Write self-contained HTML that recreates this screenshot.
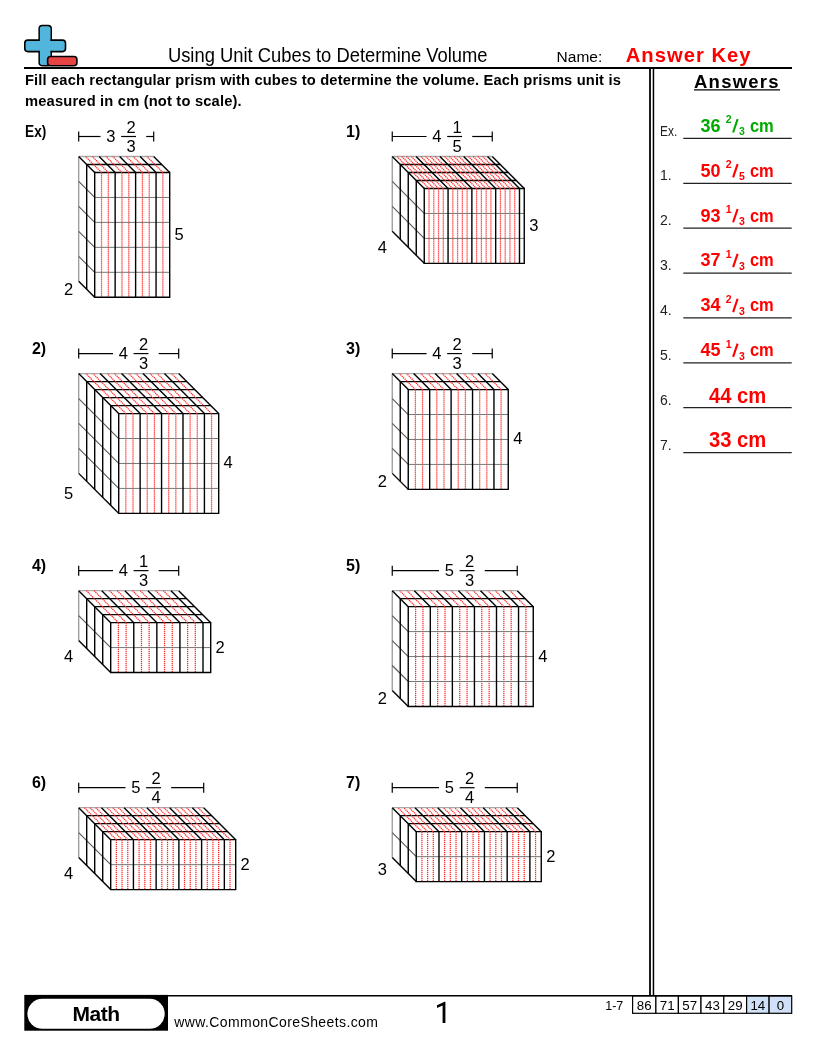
<!DOCTYPE html>
<html><head><meta charset="utf-8"><style>
html,body{margin:0;padding:0;background:#fff;}
body{width:816px;height:1056px;position:relative;overflow:hidden;font-family:"Liberation Sans",sans-serif;}
svg{position:absolute;left:0;top:0;will-change:transform;}
text{font-family:"Liberation Sans",sans-serif;-webkit-font-smoothing:antialiased;}
.dl{font-size:16.5px;fill:#000;}
.pl{font-size:16px;font-weight:bold;fill:#000;}
.al{font-size:14px;fill:#222;}
.am{font-size:18px;font-weight:bold;}
.as{font-size:10.5px;font-weight:bold;}
.asl{font-size:15px;font-weight:bold;}
.aw{font-size:21.5px;font-weight:bold;}
</style></head><body>
<svg width="816" height="1056" viewBox="0 0 816 1056">
<!-- logo -->
<rect x="39.2" y="25.6" width="12" height="40" rx="3" fill="#52b6dc" stroke="#000" stroke-width="1.6"/>
<rect x="24.8" y="40.1" width="40.7" height="11.5" rx="3" fill="#52b6dc" stroke="#000" stroke-width="1.6"/>
<rect x="39.9" y="26.4" width="10.4" height="38.4" rx="2.2" fill="#52b6dc"/>
<rect x="47.6" y="56.5" width="29.3" height="9.2" rx="3" fill="#e84343" stroke="#000" stroke-width="1.6"/>
<line x1="24" y1="68" x2="792" y2="68" stroke="#000" stroke-width="2"/>
<text x="167.9" y="61.5" font-size="19.8" fill="#000" textLength="319.7" lengthAdjust="spacingAndGlyphs">Using Unit Cubes to Determine Volume</text>
<text x="556.6" y="61.6" font-size="15.5" fill="#000">Name:</text>
<text x="625.7" y="61.5" font-size="20.2" font-weight="bold" fill="#ff0000" textLength="124.9" lengthAdjust="spacing">Answer Key</text>
<text x="25" y="84.8" font-size="14.7" font-weight="bold" fill="#000" textLength="595.8" lengthAdjust="spacing">Fill each rectangular prism with cubes to determine the volume. Each prisms unit is</text>
<text x="25" y="106" font-size="14.7" font-weight="bold" fill="#000" textLength="216.7" lengthAdjust="spacing">measured in cm (not to scale).</text>
<rect x="649.1" y="69" width="1.8" height="926" fill="#000"/>
<rect x="652.7" y="69" width="1.5" height="926" fill="#000"/>
<text x="694" y="87.7" font-size="18.5" font-weight="bold" fill="#000" textLength="84.5" lengthAdjust="spacing">Answers</text>
<line x1="694" y1="89.9" x2="780" y2="89.9" stroke="#000" stroke-width="1.3"/>
<line x1="683.3" y1="138.4" x2="791.7" y2="138.4" stroke="#222" stroke-width="1.3"/>
<text x="660" y="135.6" class="al" textLength="17.2" lengthAdjust="spacingAndGlyphs">Ex.</text>
<text x="700.5" y="131.8" class="am" fill="#00aa00">36</text>
<text x="725.7" y="123.3" class="as" fill="#00aa00">2</text>
<line x1="733.1" y1="132.5" x2="737.6" y2="119.2" stroke="#00aa00" stroke-width="2.1"/>
<text x="739" y="135.3" class="as" fill="#00aa00">3</text>
<text x="749.9" y="131.8" class="am" fill="#00aa00" textLength="23.8" lengthAdjust="spacingAndGlyphs">cm</text>
<line x1="683.3" y1="183.29" x2="791.7" y2="183.29" stroke="#222" stroke-width="1.3"/>
<text x="660" y="180.49" class="al">1.</text>
<text x="700.5" y="176.69" class="am" fill="#ff0000">50</text>
<text x="725.7" y="168.19" class="as" fill="#ff0000">2</text>
<line x1="733.1" y1="177.39" x2="737.6" y2="164.09" stroke="#ff0000" stroke-width="2.1"/>
<text x="739" y="180.19" class="as" fill="#ff0000">5</text>
<text x="749.9" y="176.69" class="am" fill="#ff0000" textLength="23.8" lengthAdjust="spacingAndGlyphs">cm</text>
<line x1="683.3" y1="228.17" x2="791.7" y2="228.17" stroke="#222" stroke-width="1.3"/>
<text x="660" y="225.37" class="al">2.</text>
<text x="700.5" y="221.57" class="am" fill="#ff0000">93</text>
<text x="725.7" y="213.07" class="as" fill="#ff0000">1</text>
<line x1="733.1" y1="222.27" x2="737.6" y2="208.97" stroke="#ff0000" stroke-width="2.1"/>
<text x="739" y="225.07" class="as" fill="#ff0000">3</text>
<text x="749.9" y="221.57" class="am" fill="#ff0000" textLength="23.8" lengthAdjust="spacingAndGlyphs">cm</text>
<line x1="683.3" y1="273.06" x2="791.7" y2="273.06" stroke="#222" stroke-width="1.3"/>
<text x="660" y="270.26" class="al">3.</text>
<text x="700.5" y="266.46" class="am" fill="#ff0000">37</text>
<text x="725.7" y="257.96" class="as" fill="#ff0000">1</text>
<line x1="733.1" y1="267.16" x2="737.6" y2="253.86" stroke="#ff0000" stroke-width="2.1"/>
<text x="739" y="269.96" class="as" fill="#ff0000">3</text>
<text x="749.9" y="266.46" class="am" fill="#ff0000" textLength="23.8" lengthAdjust="spacingAndGlyphs">cm</text>
<line x1="683.3" y1="317.94" x2="791.7" y2="317.94" stroke="#222" stroke-width="1.3"/>
<text x="660" y="315.14" class="al">4.</text>
<text x="700.5" y="311.34" class="am" fill="#ff0000">34</text>
<text x="725.7" y="302.84" class="as" fill="#ff0000">2</text>
<line x1="733.1" y1="312.04" x2="737.6" y2="298.74" stroke="#ff0000" stroke-width="2.1"/>
<text x="739" y="314.84" class="as" fill="#ff0000">3</text>
<text x="749.9" y="311.34" class="am" fill="#ff0000" textLength="23.8" lengthAdjust="spacingAndGlyphs">cm</text>
<line x1="683.3" y1="362.83" x2="791.7" y2="362.83" stroke="#222" stroke-width="1.3"/>
<text x="660" y="360.03" class="al">5.</text>
<text x="700.5" y="356.23" class="am" fill="#ff0000">45</text>
<text x="725.7" y="347.73" class="as" fill="#ff0000">1</text>
<line x1="733.1" y1="356.93" x2="737.6" y2="343.63" stroke="#ff0000" stroke-width="2.1"/>
<text x="739" y="359.73" class="as" fill="#ff0000">3</text>
<text x="749.9" y="356.23" class="am" fill="#ff0000" textLength="23.8" lengthAdjust="spacingAndGlyphs">cm</text>
<line x1="683.3" y1="407.72" x2="791.7" y2="407.72" stroke="#222" stroke-width="1.3"/>
<text x="660" y="404.92" class="al">6.</text>
<text x="709" y="402.52" class="aw" fill="#ff0000" textLength="57.2" lengthAdjust="spacingAndGlyphs">44 cm</text>
<line x1="683.3" y1="452.6" x2="791.7" y2="452.6" stroke="#222" stroke-width="1.3"/>
<text x="660" y="449.8" class="al">7.</text>
<text x="709" y="447.4" class="aw" fill="#ff0000" textLength="57.2" lengthAdjust="spacingAndGlyphs">33 cm</text>
<polygon points="94.7,297.25 78.7,281.25 78.7,156.5 153.7,156.5 169.7,172.5 169.7,297.25" fill="#fff"/>
<line x1="94.7" y1="172.5" x2="169.7" y2="172.5" stroke="#000" stroke-width="1.3"/>
<line x1="86.7" y1="164.5" x2="161.7" y2="164.5" stroke="#000" stroke-width="1.3"/>
<line x1="78.7" y1="156.5" x2="153.7" y2="156.5" stroke="#aaa" stroke-width="1.3"/>
<line x1="78.7" y1="156.5" x2="78.7" y2="281.25" stroke="#999" stroke-width="1.3"/>
<line x1="101.52" y1="172.5" x2="85.52" y2="156.5" stroke="#ff2a2a" stroke-width="1.25" stroke-dasharray="1.3 0.7"/>
<line x1="108.34" y1="172.5" x2="92.34" y2="156.5" stroke="#ff2a2a" stroke-width="1.25" stroke-dasharray="1.3 0.7"/>
<line x1="121.97" y1="172.5" x2="105.97" y2="156.5" stroke="#ff2a2a" stroke-width="1.25" stroke-dasharray="1.3 0.7"/>
<line x1="128.79" y1="172.5" x2="112.79" y2="156.5" stroke="#ff2a2a" stroke-width="1.25" stroke-dasharray="1.3 0.7"/>
<line x1="142.43" y1="172.5" x2="126.43" y2="156.5" stroke="#ff2a2a" stroke-width="1.25" stroke-dasharray="1.3 0.7"/>
<line x1="149.25" y1="172.5" x2="133.25" y2="156.5" stroke="#ff2a2a" stroke-width="1.25" stroke-dasharray="1.3 0.7"/>
<line x1="162.88" y1="172.5" x2="146.88" y2="156.5" stroke="#ff2a2a" stroke-width="1.25" stroke-dasharray="1.3 0.7"/>
<line x1="101.52" y1="172.5" x2="101.52" y2="297.25" stroke="#ff2a2a" stroke-width="1.25" stroke-dasharray="1.3 0.7"/>
<line x1="108.34" y1="172.5" x2="108.34" y2="297.25" stroke="#ff2a2a" stroke-width="1.25" stroke-dasharray="1.3 0.7"/>
<line x1="121.97" y1="172.5" x2="121.97" y2="297.25" stroke="#ff2a2a" stroke-width="1.25" stroke-dasharray="1.3 0.7"/>
<line x1="128.79" y1="172.5" x2="128.79" y2="297.25" stroke="#ff2a2a" stroke-width="1.25" stroke-dasharray="1.3 0.7"/>
<line x1="142.43" y1="172.5" x2="142.43" y2="297.25" stroke="#ff2a2a" stroke-width="1.25" stroke-dasharray="1.3 0.7"/>
<line x1="149.25" y1="172.5" x2="149.25" y2="297.25" stroke="#ff2a2a" stroke-width="1.25" stroke-dasharray="1.3 0.7"/>
<line x1="162.88" y1="172.5" x2="162.88" y2="297.25" stroke="#ff2a2a" stroke-width="1.25" stroke-dasharray="1.3 0.7"/>
<line x1="94.7" y1="197.45" x2="169.7" y2="197.45" stroke="#777" stroke-width="1"/>
<line x1="94.7" y1="222.4" x2="169.7" y2="222.4" stroke="#777" stroke-width="1"/>
<line x1="94.7" y1="247.35" x2="169.7" y2="247.35" stroke="#777" stroke-width="1"/>
<line x1="94.7" y1="272.3" x2="169.7" y2="272.3" stroke="#777" stroke-width="1"/>
<line x1="94.7" y1="197.45" x2="78.7" y2="181.45" stroke="#555" stroke-width="1.1"/>
<line x1="94.7" y1="222.4" x2="78.7" y2="206.4" stroke="#555" stroke-width="1.1"/>
<line x1="94.7" y1="247.35" x2="78.7" y2="231.35" stroke="#555" stroke-width="1.1"/>
<line x1="94.7" y1="272.3" x2="78.7" y2="256.3" stroke="#555" stroke-width="1.1"/>
<line x1="86.7" y1="164.5" x2="86.7" y2="289.25" stroke="#000" stroke-width="1.4"/>
<line x1="94.7" y1="172.5" x2="78.7" y2="156.5" stroke="#000" stroke-width="1.4"/>
<line x1="115.15" y1="172.5" x2="99.15" y2="156.5" stroke="#000" stroke-width="1.4"/>
<line x1="135.61" y1="172.5" x2="119.61" y2="156.5" stroke="#000" stroke-width="1.4"/>
<line x1="156.06" y1="172.5" x2="140.06" y2="156.5" stroke="#000" stroke-width="1.4"/>
<line x1="169.7" y1="172.5" x2="153.7" y2="156.5" stroke="#000" stroke-width="1.4"/>
<line x1="94.7" y1="297.25" x2="78.7" y2="281.25" stroke="#000" stroke-width="1.4"/>
<line x1="115.15" y1="172.5" x2="115.15" y2="297.25" stroke="#000" stroke-width="1.4"/>
<line x1="135.61" y1="172.5" x2="135.61" y2="297.25" stroke="#000" stroke-width="1.4"/>
<line x1="156.06" y1="172.5" x2="156.06" y2="297.25" stroke="#000" stroke-width="1.4"/>
<polyline points="94.7,171.85 94.7,297.25 169.7,297.25 169.7,171.85" fill="none" stroke="#000" stroke-width="1.4" stroke-linejoin="miter"/>
<line x1="78.7" y1="136.5" x2="100.5" y2="136.5" stroke="#000" stroke-width="1.2"/>
<line x1="146.2" y1="136.5" x2="153.7" y2="136.5" stroke="#000" stroke-width="1.2"/>
<line x1="78.7" y1="131.5" x2="78.7" y2="141.5" stroke="#000" stroke-width="1.2"/>
<line x1="153.7" y1="131.5" x2="153.7" y2="141.5" stroke="#000" stroke-width="1.2"/>
<text x="110.8" y="141.9" class="dl" text-anchor="middle">3</text>
<line x1="121.1" y1="136.5" x2="136" y2="136.5" stroke="#000" stroke-width="1.2"/>
<text x="131" y="132.8" class="dl" text-anchor="middle">2</text>
<text x="131" y="151.8" class="dl" text-anchor="middle">3</text>
<text x="179.2" y="239.88" class="dl" text-anchor="middle">5</text>
<text x="68.7" y="295.05" class="dl" text-anchor="middle">2</text>
<text x="25.1" y="136.6" class="pl" textLength="21.2" lengthAdjust="spacingAndGlyphs" font-size="15.8">Ex)</text>
<polygon points="424.25,263.35 392.25,231.35 392.25,156.5 492.25,156.5 524.25,188.5 524.25,263.35" fill="#fff"/>
<line x1="424.25" y1="188.5" x2="524.25" y2="188.5" stroke="#000" stroke-width="1.3"/>
<line x1="416.25" y1="180.5" x2="516.25" y2="180.5" stroke="#000" stroke-width="1.3"/>
<line x1="408.25" y1="172.5" x2="508.25" y2="172.5" stroke="#000" stroke-width="1.3"/>
<line x1="400.25" y1="164.5" x2="500.25" y2="164.5" stroke="#000" stroke-width="1.3"/>
<line x1="392.25" y1="156.5" x2="492.25" y2="156.5" stroke="#aaa" stroke-width="1.3"/>
<line x1="392.25" y1="156.5" x2="392.25" y2="231.35" stroke="#999" stroke-width="1.3"/>
<line x1="429.01" y1="188.5" x2="397.01" y2="156.5" stroke="#ff2a2a" stroke-width="1.25" stroke-dasharray="1.3 0.7"/>
<line x1="433.77" y1="188.5" x2="401.77" y2="156.5" stroke="#ff2a2a" stroke-width="1.25" stroke-dasharray="1.3 0.7"/>
<line x1="438.54" y1="188.5" x2="406.54" y2="156.5" stroke="#ff2a2a" stroke-width="1.25" stroke-dasharray="1.3 0.7"/>
<line x1="443.3" y1="188.5" x2="411.3" y2="156.5" stroke="#ff2a2a" stroke-width="1.25" stroke-dasharray="1.3 0.7"/>
<line x1="452.82" y1="188.5" x2="420.82" y2="156.5" stroke="#ff2a2a" stroke-width="1.25" stroke-dasharray="1.3 0.7"/>
<line x1="457.58" y1="188.5" x2="425.58" y2="156.5" stroke="#ff2a2a" stroke-width="1.25" stroke-dasharray="1.3 0.7"/>
<line x1="462.35" y1="188.5" x2="430.35" y2="156.5" stroke="#ff2a2a" stroke-width="1.25" stroke-dasharray="1.3 0.7"/>
<line x1="467.11" y1="188.5" x2="435.11" y2="156.5" stroke="#ff2a2a" stroke-width="1.25" stroke-dasharray="1.3 0.7"/>
<line x1="476.63" y1="188.5" x2="444.63" y2="156.5" stroke="#ff2a2a" stroke-width="1.25" stroke-dasharray="1.3 0.7"/>
<line x1="481.39" y1="188.5" x2="449.39" y2="156.5" stroke="#ff2a2a" stroke-width="1.25" stroke-dasharray="1.3 0.7"/>
<line x1="486.15" y1="188.5" x2="454.15" y2="156.5" stroke="#ff2a2a" stroke-width="1.25" stroke-dasharray="1.3 0.7"/>
<line x1="490.92" y1="188.5" x2="458.92" y2="156.5" stroke="#ff2a2a" stroke-width="1.25" stroke-dasharray="1.3 0.7"/>
<line x1="500.44" y1="188.5" x2="468.44" y2="156.5" stroke="#ff2a2a" stroke-width="1.25" stroke-dasharray="1.3 0.7"/>
<line x1="505.2" y1="188.5" x2="473.2" y2="156.5" stroke="#ff2a2a" stroke-width="1.25" stroke-dasharray="1.3 0.7"/>
<line x1="509.96" y1="188.5" x2="477.96" y2="156.5" stroke="#ff2a2a" stroke-width="1.25" stroke-dasharray="1.3 0.7"/>
<line x1="514.73" y1="188.5" x2="482.73" y2="156.5" stroke="#ff2a2a" stroke-width="1.25" stroke-dasharray="1.3 0.7"/>
<line x1="429.01" y1="188.5" x2="429.01" y2="263.35" stroke="#ff2a2a" stroke-width="1.25" stroke-dasharray="1.3 0.7"/>
<line x1="433.77" y1="188.5" x2="433.77" y2="263.35" stroke="#ff2a2a" stroke-width="1.25" stroke-dasharray="1.3 0.7"/>
<line x1="438.54" y1="188.5" x2="438.54" y2="263.35" stroke="#ff2a2a" stroke-width="1.25" stroke-dasharray="1.3 0.7"/>
<line x1="443.3" y1="188.5" x2="443.3" y2="263.35" stroke="#ff2a2a" stroke-width="1.25" stroke-dasharray="1.3 0.7"/>
<line x1="452.82" y1="188.5" x2="452.82" y2="263.35" stroke="#ff2a2a" stroke-width="1.25" stroke-dasharray="1.3 0.7"/>
<line x1="457.58" y1="188.5" x2="457.58" y2="263.35" stroke="#ff2a2a" stroke-width="1.25" stroke-dasharray="1.3 0.7"/>
<line x1="462.35" y1="188.5" x2="462.35" y2="263.35" stroke="#ff2a2a" stroke-width="1.25" stroke-dasharray="1.3 0.7"/>
<line x1="467.11" y1="188.5" x2="467.11" y2="263.35" stroke="#ff2a2a" stroke-width="1.25" stroke-dasharray="1.3 0.7"/>
<line x1="476.63" y1="188.5" x2="476.63" y2="263.35" stroke="#ff2a2a" stroke-width="1.25" stroke-dasharray="1.3 0.7"/>
<line x1="481.39" y1="188.5" x2="481.39" y2="263.35" stroke="#ff2a2a" stroke-width="1.25" stroke-dasharray="1.3 0.7"/>
<line x1="486.15" y1="188.5" x2="486.15" y2="263.35" stroke="#ff2a2a" stroke-width="1.25" stroke-dasharray="1.3 0.7"/>
<line x1="490.92" y1="188.5" x2="490.92" y2="263.35" stroke="#ff2a2a" stroke-width="1.25" stroke-dasharray="1.3 0.7"/>
<line x1="500.44" y1="188.5" x2="500.44" y2="263.35" stroke="#ff2a2a" stroke-width="1.25" stroke-dasharray="1.3 0.7"/>
<line x1="505.2" y1="188.5" x2="505.2" y2="263.35" stroke="#ff2a2a" stroke-width="1.25" stroke-dasharray="1.3 0.7"/>
<line x1="509.96" y1="188.5" x2="509.96" y2="263.35" stroke="#ff2a2a" stroke-width="1.25" stroke-dasharray="1.3 0.7"/>
<line x1="514.73" y1="188.5" x2="514.73" y2="263.35" stroke="#ff2a2a" stroke-width="1.25" stroke-dasharray="1.3 0.7"/>
<line x1="424.25" y1="213.45" x2="524.25" y2="213.45" stroke="#777" stroke-width="1"/>
<line x1="424.25" y1="238.4" x2="524.25" y2="238.4" stroke="#777" stroke-width="1"/>
<line x1="424.25" y1="213.45" x2="392.25" y2="181.45" stroke="#555" stroke-width="1.1"/>
<line x1="424.25" y1="238.4" x2="392.25" y2="206.4" stroke="#555" stroke-width="1.1"/>
<line x1="416.25" y1="180.5" x2="416.25" y2="255.35" stroke="#000" stroke-width="1.4"/>
<line x1="408.25" y1="172.5" x2="408.25" y2="247.35" stroke="#000" stroke-width="1.4"/>
<line x1="400.25" y1="164.5" x2="400.25" y2="239.35" stroke="#000" stroke-width="1.4"/>
<line x1="424.25" y1="188.5" x2="392.25" y2="156.5" stroke="#000" stroke-width="1.4"/>
<line x1="448.06" y1="188.5" x2="416.06" y2="156.5" stroke="#000" stroke-width="1.4"/>
<line x1="471.87" y1="188.5" x2="439.87" y2="156.5" stroke="#000" stroke-width="1.4"/>
<line x1="495.68" y1="188.5" x2="463.68" y2="156.5" stroke="#000" stroke-width="1.4"/>
<line x1="519.49" y1="188.5" x2="487.49" y2="156.5" stroke="#000" stroke-width="1.4"/>
<line x1="524.25" y1="188.5" x2="492.25" y2="156.5" stroke="#000" stroke-width="1.4"/>
<line x1="424.25" y1="263.35" x2="392.25" y2="231.35" stroke="#000" stroke-width="1.4"/>
<line x1="448.06" y1="188.5" x2="448.06" y2="263.35" stroke="#000" stroke-width="1.4"/>
<line x1="471.87" y1="188.5" x2="471.87" y2="263.35" stroke="#000" stroke-width="1.4"/>
<line x1="495.68" y1="188.5" x2="495.68" y2="263.35" stroke="#000" stroke-width="1.4"/>
<line x1="519.49" y1="188.5" x2="519.49" y2="263.35" stroke="#000" stroke-width="1.4"/>
<polyline points="424.25,187.85 424.25,263.35 524.25,263.35 524.25,187.85" fill="none" stroke="#000" stroke-width="1.4" stroke-linejoin="miter"/>
<line x1="392.25" y1="136.5" x2="426.55" y2="136.5" stroke="#000" stroke-width="1.2"/>
<line x1="472.25" y1="136.5" x2="492.25" y2="136.5" stroke="#000" stroke-width="1.2"/>
<line x1="392.25" y1="131.5" x2="392.25" y2="141.5" stroke="#000" stroke-width="1.2"/>
<line x1="492.25" y1="131.5" x2="492.25" y2="141.5" stroke="#000" stroke-width="1.2"/>
<text x="436.85" y="141.9" class="dl" text-anchor="middle">4</text>
<line x1="447.15" y1="136.5" x2="462.05" y2="136.5" stroke="#000" stroke-width="1.2"/>
<text x="457.05" y="132.8" class="dl" text-anchor="middle">1</text>
<text x="457.05" y="151.8" class="dl" text-anchor="middle">5</text>
<text x="533.75" y="230.93" class="dl" text-anchor="middle">3</text>
<text x="382.25" y="253.15" class="dl" text-anchor="middle">4</text>
<text x="346" y="136.6" class="pl">1)</text>
<polygon points="118.7,513.37 78.7,473.37 78.7,373.57 178.7,373.57 218.7,413.57 218.7,513.37" fill="#fff"/>
<line x1="118.7" y1="413.57" x2="218.7" y2="413.57" stroke="#000" stroke-width="1.3"/>
<line x1="110.7" y1="405.57" x2="210.7" y2="405.57" stroke="#000" stroke-width="1.3"/>
<line x1="102.7" y1="397.57" x2="202.7" y2="397.57" stroke="#000" stroke-width="1.3"/>
<line x1="94.7" y1="389.57" x2="194.7" y2="389.57" stroke="#000" stroke-width="1.3"/>
<line x1="86.7" y1="381.57" x2="186.7" y2="381.57" stroke="#000" stroke-width="1.3"/>
<line x1="78.7" y1="373.57" x2="178.7" y2="373.57" stroke="#aaa" stroke-width="1.3"/>
<line x1="78.7" y1="373.57" x2="78.7" y2="473.37" stroke="#999" stroke-width="1.3"/>
<line x1="125.84" y1="413.57" x2="85.84" y2="373.57" stroke="#ff2a2a" stroke-width="1.25" stroke-dasharray="1.3 0.7"/>
<line x1="132.99" y1="413.57" x2="92.99" y2="373.57" stroke="#ff2a2a" stroke-width="1.25" stroke-dasharray="1.3 0.7"/>
<line x1="147.27" y1="413.57" x2="107.27" y2="373.57" stroke="#ff2a2a" stroke-width="1.25" stroke-dasharray="1.3 0.7"/>
<line x1="154.41" y1="413.57" x2="114.41" y2="373.57" stroke="#ff2a2a" stroke-width="1.25" stroke-dasharray="1.3 0.7"/>
<line x1="168.7" y1="413.57" x2="128.7" y2="373.57" stroke="#ff2a2a" stroke-width="1.25" stroke-dasharray="1.3 0.7"/>
<line x1="175.84" y1="413.57" x2="135.84" y2="373.57" stroke="#ff2a2a" stroke-width="1.25" stroke-dasharray="1.3 0.7"/>
<line x1="190.13" y1="413.57" x2="150.13" y2="373.57" stroke="#ff2a2a" stroke-width="1.25" stroke-dasharray="1.3 0.7"/>
<line x1="197.27" y1="413.57" x2="157.27" y2="373.57" stroke="#ff2a2a" stroke-width="1.25" stroke-dasharray="1.3 0.7"/>
<line x1="211.56" y1="413.57" x2="171.56" y2="373.57" stroke="#ff2a2a" stroke-width="1.25" stroke-dasharray="1.3 0.7"/>
<line x1="125.84" y1="413.57" x2="125.84" y2="513.37" stroke="#ff2a2a" stroke-width="1.25" stroke-dasharray="1.3 0.7"/>
<line x1="132.99" y1="413.57" x2="132.99" y2="513.37" stroke="#ff2a2a" stroke-width="1.25" stroke-dasharray="1.3 0.7"/>
<line x1="147.27" y1="413.57" x2="147.27" y2="513.37" stroke="#ff2a2a" stroke-width="1.25" stroke-dasharray="1.3 0.7"/>
<line x1="154.41" y1="413.57" x2="154.41" y2="513.37" stroke="#ff2a2a" stroke-width="1.25" stroke-dasharray="1.3 0.7"/>
<line x1="168.7" y1="413.57" x2="168.7" y2="513.37" stroke="#ff2a2a" stroke-width="1.25" stroke-dasharray="1.3 0.7"/>
<line x1="175.84" y1="413.57" x2="175.84" y2="513.37" stroke="#ff2a2a" stroke-width="1.25" stroke-dasharray="1.3 0.7"/>
<line x1="190.13" y1="413.57" x2="190.13" y2="513.37" stroke="#ff2a2a" stroke-width="1.25" stroke-dasharray="1.3 0.7"/>
<line x1="197.27" y1="413.57" x2="197.27" y2="513.37" stroke="#ff2a2a" stroke-width="1.25" stroke-dasharray="1.3 0.7"/>
<line x1="211.56" y1="413.57" x2="211.56" y2="513.37" stroke="#ff2a2a" stroke-width="1.25" stroke-dasharray="1.3 0.7"/>
<line x1="118.7" y1="438.52" x2="218.7" y2="438.52" stroke="#777" stroke-width="1"/>
<line x1="118.7" y1="463.47" x2="218.7" y2="463.47" stroke="#777" stroke-width="1"/>
<line x1="118.7" y1="488.42" x2="218.7" y2="488.42" stroke="#777" stroke-width="1"/>
<line x1="118.7" y1="438.52" x2="78.7" y2="398.52" stroke="#555" stroke-width="1.1"/>
<line x1="118.7" y1="463.47" x2="78.7" y2="423.47" stroke="#555" stroke-width="1.1"/>
<line x1="118.7" y1="488.42" x2="78.7" y2="448.42" stroke="#555" stroke-width="1.1"/>
<line x1="110.7" y1="405.57" x2="110.7" y2="505.37" stroke="#000" stroke-width="1.4"/>
<line x1="102.7" y1="397.57" x2="102.7" y2="497.37" stroke="#000" stroke-width="1.4"/>
<line x1="94.7" y1="389.57" x2="94.7" y2="489.37" stroke="#000" stroke-width="1.4"/>
<line x1="86.7" y1="381.57" x2="86.7" y2="481.37" stroke="#000" stroke-width="1.4"/>
<line x1="118.7" y1="413.57" x2="78.7" y2="373.57" stroke="#000" stroke-width="1.4"/>
<line x1="140.13" y1="413.57" x2="100.13" y2="373.57" stroke="#000" stroke-width="1.4"/>
<line x1="161.56" y1="413.57" x2="121.56" y2="373.57" stroke="#000" stroke-width="1.4"/>
<line x1="182.99" y1="413.57" x2="142.99" y2="373.57" stroke="#000" stroke-width="1.4"/>
<line x1="204.41" y1="413.57" x2="164.41" y2="373.57" stroke="#000" stroke-width="1.4"/>
<line x1="218.7" y1="413.57" x2="178.7" y2="373.57" stroke="#000" stroke-width="1.4"/>
<line x1="118.7" y1="513.37" x2="78.7" y2="473.37" stroke="#000" stroke-width="1.4"/>
<line x1="140.13" y1="413.57" x2="140.13" y2="513.37" stroke="#000" stroke-width="1.4"/>
<line x1="161.56" y1="413.57" x2="161.56" y2="513.37" stroke="#000" stroke-width="1.4"/>
<line x1="182.99" y1="413.57" x2="182.99" y2="513.37" stroke="#000" stroke-width="1.4"/>
<line x1="204.41" y1="413.57" x2="204.41" y2="513.37" stroke="#000" stroke-width="1.4"/>
<polyline points="118.7,412.92 118.7,513.37 218.7,513.37 218.7,412.92" fill="none" stroke="#000" stroke-width="1.4" stroke-linejoin="miter"/>
<line x1="78.7" y1="353.57" x2="113" y2="353.57" stroke="#000" stroke-width="1.2"/>
<line x1="158.7" y1="353.57" x2="178.7" y2="353.57" stroke="#000" stroke-width="1.2"/>
<line x1="78.7" y1="348.57" x2="78.7" y2="358.57" stroke="#000" stroke-width="1.2"/>
<line x1="178.7" y1="348.57" x2="178.7" y2="358.57" stroke="#000" stroke-width="1.2"/>
<text x="123.3" y="358.97" class="dl" text-anchor="middle">4</text>
<line x1="133.6" y1="353.57" x2="148.5" y2="353.57" stroke="#000" stroke-width="1.2"/>
<text x="143.5" y="349.87" class="dl" text-anchor="middle">2</text>
<text x="143.5" y="368.87" class="dl" text-anchor="middle">3</text>
<text x="228.2" y="468.47" class="dl" text-anchor="middle">4</text>
<text x="68.7" y="499.17" class="dl" text-anchor="middle">5</text>
<text x="31.9" y="353.67" class="pl">2)</text>
<polygon points="408.25,489.37 392.25,473.37 392.25,373.57 492.25,373.57 508.25,389.57 508.25,489.37" fill="#fff"/>
<line x1="408.25" y1="389.57" x2="508.25" y2="389.57" stroke="#000" stroke-width="1.3"/>
<line x1="400.25" y1="381.57" x2="500.25" y2="381.57" stroke="#000" stroke-width="1.3"/>
<line x1="392.25" y1="373.57" x2="492.25" y2="373.57" stroke="#aaa" stroke-width="1.3"/>
<line x1="392.25" y1="373.57" x2="392.25" y2="473.37" stroke="#999" stroke-width="1.3"/>
<line x1="415.39" y1="389.57" x2="399.39" y2="373.57" stroke="#ff2a2a" stroke-width="1.25" stroke-dasharray="1.3 0.7"/>
<line x1="422.54" y1="389.57" x2="406.54" y2="373.57" stroke="#ff2a2a" stroke-width="1.25" stroke-dasharray="1.3 0.7"/>
<line x1="436.82" y1="389.57" x2="420.82" y2="373.57" stroke="#ff2a2a" stroke-width="1.25" stroke-dasharray="1.3 0.7"/>
<line x1="443.96" y1="389.57" x2="427.96" y2="373.57" stroke="#ff2a2a" stroke-width="1.25" stroke-dasharray="1.3 0.7"/>
<line x1="458.25" y1="389.57" x2="442.25" y2="373.57" stroke="#ff2a2a" stroke-width="1.25" stroke-dasharray="1.3 0.7"/>
<line x1="465.39" y1="389.57" x2="449.39" y2="373.57" stroke="#ff2a2a" stroke-width="1.25" stroke-dasharray="1.3 0.7"/>
<line x1="479.68" y1="389.57" x2="463.68" y2="373.57" stroke="#ff2a2a" stroke-width="1.25" stroke-dasharray="1.3 0.7"/>
<line x1="486.82" y1="389.57" x2="470.82" y2="373.57" stroke="#ff2a2a" stroke-width="1.25" stroke-dasharray="1.3 0.7"/>
<line x1="501.11" y1="389.57" x2="485.11" y2="373.57" stroke="#ff2a2a" stroke-width="1.25" stroke-dasharray="1.3 0.7"/>
<line x1="415.39" y1="389.57" x2="415.39" y2="489.37" stroke="#ff2a2a" stroke-width="1.25" stroke-dasharray="1.3 0.7"/>
<line x1="422.54" y1="389.57" x2="422.54" y2="489.37" stroke="#ff2a2a" stroke-width="1.25" stroke-dasharray="1.3 0.7"/>
<line x1="436.82" y1="389.57" x2="436.82" y2="489.37" stroke="#ff2a2a" stroke-width="1.25" stroke-dasharray="1.3 0.7"/>
<line x1="443.96" y1="389.57" x2="443.96" y2="489.37" stroke="#ff2a2a" stroke-width="1.25" stroke-dasharray="1.3 0.7"/>
<line x1="458.25" y1="389.57" x2="458.25" y2="489.37" stroke="#ff2a2a" stroke-width="1.25" stroke-dasharray="1.3 0.7"/>
<line x1="465.39" y1="389.57" x2="465.39" y2="489.37" stroke="#ff2a2a" stroke-width="1.25" stroke-dasharray="1.3 0.7"/>
<line x1="479.68" y1="389.57" x2="479.68" y2="489.37" stroke="#ff2a2a" stroke-width="1.25" stroke-dasharray="1.3 0.7"/>
<line x1="486.82" y1="389.57" x2="486.82" y2="489.37" stroke="#ff2a2a" stroke-width="1.25" stroke-dasharray="1.3 0.7"/>
<line x1="501.11" y1="389.57" x2="501.11" y2="489.37" stroke="#ff2a2a" stroke-width="1.25" stroke-dasharray="1.3 0.7"/>
<line x1="408.25" y1="414.52" x2="508.25" y2="414.52" stroke="#777" stroke-width="1"/>
<line x1="408.25" y1="439.47" x2="508.25" y2="439.47" stroke="#777" stroke-width="1"/>
<line x1="408.25" y1="464.42" x2="508.25" y2="464.42" stroke="#777" stroke-width="1"/>
<line x1="408.25" y1="414.52" x2="392.25" y2="398.52" stroke="#555" stroke-width="1.1"/>
<line x1="408.25" y1="439.47" x2="392.25" y2="423.47" stroke="#555" stroke-width="1.1"/>
<line x1="408.25" y1="464.42" x2="392.25" y2="448.42" stroke="#555" stroke-width="1.1"/>
<line x1="400.25" y1="381.57" x2="400.25" y2="481.37" stroke="#000" stroke-width="1.4"/>
<line x1="408.25" y1="389.57" x2="392.25" y2="373.57" stroke="#000" stroke-width="1.4"/>
<line x1="429.68" y1="389.57" x2="413.68" y2="373.57" stroke="#000" stroke-width="1.4"/>
<line x1="451.11" y1="389.57" x2="435.11" y2="373.57" stroke="#000" stroke-width="1.4"/>
<line x1="472.54" y1="389.57" x2="456.54" y2="373.57" stroke="#000" stroke-width="1.4"/>
<line x1="493.96" y1="389.57" x2="477.96" y2="373.57" stroke="#000" stroke-width="1.4"/>
<line x1="508.25" y1="389.57" x2="492.25" y2="373.57" stroke="#000" stroke-width="1.4"/>
<line x1="408.25" y1="489.37" x2="392.25" y2="473.37" stroke="#000" stroke-width="1.4"/>
<line x1="429.68" y1="389.57" x2="429.68" y2="489.37" stroke="#000" stroke-width="1.4"/>
<line x1="451.11" y1="389.57" x2="451.11" y2="489.37" stroke="#000" stroke-width="1.4"/>
<line x1="472.54" y1="389.57" x2="472.54" y2="489.37" stroke="#000" stroke-width="1.4"/>
<line x1="493.96" y1="389.57" x2="493.96" y2="489.37" stroke="#000" stroke-width="1.4"/>
<polyline points="408.25,388.92 408.25,489.37 508.25,489.37 508.25,388.92" fill="none" stroke="#000" stroke-width="1.4" stroke-linejoin="miter"/>
<line x1="392.25" y1="353.57" x2="426.55" y2="353.57" stroke="#000" stroke-width="1.2"/>
<line x1="472.25" y1="353.57" x2="492.25" y2="353.57" stroke="#000" stroke-width="1.2"/>
<line x1="392.25" y1="348.57" x2="392.25" y2="358.57" stroke="#000" stroke-width="1.2"/>
<line x1="492.25" y1="348.57" x2="492.25" y2="358.57" stroke="#000" stroke-width="1.2"/>
<text x="436.85" y="358.97" class="dl" text-anchor="middle">4</text>
<line x1="447.15" y1="353.57" x2="462.05" y2="353.57" stroke="#000" stroke-width="1.2"/>
<text x="457.05" y="349.87" class="dl" text-anchor="middle">2</text>
<text x="457.05" y="368.87" class="dl" text-anchor="middle">3</text>
<text x="517.75" y="444.47" class="dl" text-anchor="middle">4</text>
<text x="382.25" y="487.17" class="dl" text-anchor="middle">2</text>
<text x="346" y="353.67" class="pl">3)</text>
<polygon points="110.7,672.54 78.7,640.54 78.7,590.64 178.7,590.64 210.7,622.64 210.7,672.54" fill="#fff"/>
<line x1="110.7" y1="622.64" x2="210.7" y2="622.64" stroke="#000" stroke-width="1.3"/>
<line x1="102.7" y1="614.64" x2="202.7" y2="614.64" stroke="#000" stroke-width="1.3"/>
<line x1="94.7" y1="606.64" x2="194.7" y2="606.64" stroke="#000" stroke-width="1.3"/>
<line x1="86.7" y1="598.64" x2="186.7" y2="598.64" stroke="#000" stroke-width="1.3"/>
<line x1="78.7" y1="590.64" x2="178.7" y2="590.64" stroke="#aaa" stroke-width="1.3"/>
<line x1="78.7" y1="590.64" x2="78.7" y2="640.54" stroke="#999" stroke-width="1.3"/>
<line x1="118.39" y1="622.64" x2="86.39" y2="590.64" stroke="#ff2a2a" stroke-width="1.25" stroke-dasharray="1.3 0.7"/>
<line x1="126.08" y1="622.64" x2="94.08" y2="590.64" stroke="#ff2a2a" stroke-width="1.25" stroke-dasharray="1.3 0.7"/>
<line x1="141.47" y1="622.64" x2="109.47" y2="590.64" stroke="#ff2a2a" stroke-width="1.25" stroke-dasharray="1.3 0.7"/>
<line x1="149.16" y1="622.64" x2="117.16" y2="590.64" stroke="#ff2a2a" stroke-width="1.25" stroke-dasharray="1.3 0.7"/>
<line x1="164.55" y1="622.64" x2="132.55" y2="590.64" stroke="#ff2a2a" stroke-width="1.25" stroke-dasharray="1.3 0.7"/>
<line x1="172.24" y1="622.64" x2="140.24" y2="590.64" stroke="#ff2a2a" stroke-width="1.25" stroke-dasharray="1.3 0.7"/>
<line x1="187.62" y1="622.64" x2="155.62" y2="590.64" stroke="#ff2a2a" stroke-width="1.25" stroke-dasharray="1.3 0.7"/>
<line x1="195.32" y1="622.64" x2="163.32" y2="590.64" stroke="#ff2a2a" stroke-width="1.25" stroke-dasharray="1.3 0.7"/>
<line x1="118.39" y1="622.64" x2="118.39" y2="672.54" stroke="#ff2a2a" stroke-width="1.25" stroke-dasharray="1.3 0.7"/>
<line x1="126.08" y1="622.64" x2="126.08" y2="672.54" stroke="#ff2a2a" stroke-width="1.25" stroke-dasharray="1.3 0.7"/>
<line x1="141.47" y1="622.64" x2="141.47" y2="672.54" stroke="#ff2a2a" stroke-width="1.25" stroke-dasharray="1.3 0.7"/>
<line x1="149.16" y1="622.64" x2="149.16" y2="672.54" stroke="#ff2a2a" stroke-width="1.25" stroke-dasharray="1.3 0.7"/>
<line x1="164.55" y1="622.64" x2="164.55" y2="672.54" stroke="#ff2a2a" stroke-width="1.25" stroke-dasharray="1.3 0.7"/>
<line x1="172.24" y1="622.64" x2="172.24" y2="672.54" stroke="#ff2a2a" stroke-width="1.25" stroke-dasharray="1.3 0.7"/>
<line x1="187.62" y1="622.64" x2="187.62" y2="672.54" stroke="#ff2a2a" stroke-width="1.25" stroke-dasharray="1.3 0.7"/>
<line x1="195.32" y1="622.64" x2="195.32" y2="672.54" stroke="#ff2a2a" stroke-width="1.25" stroke-dasharray="1.3 0.7"/>
<line x1="110.7" y1="647.59" x2="210.7" y2="647.59" stroke="#777" stroke-width="1"/>
<line x1="110.7" y1="647.59" x2="78.7" y2="615.59" stroke="#555" stroke-width="1.1"/>
<line x1="102.7" y1="614.64" x2="102.7" y2="664.54" stroke="#000" stroke-width="1.4"/>
<line x1="94.7" y1="606.64" x2="94.7" y2="656.54" stroke="#000" stroke-width="1.4"/>
<line x1="86.7" y1="598.64" x2="86.7" y2="648.54" stroke="#000" stroke-width="1.4"/>
<line x1="110.7" y1="622.64" x2="78.7" y2="590.64" stroke="#000" stroke-width="1.4"/>
<line x1="133.78" y1="622.64" x2="101.78" y2="590.64" stroke="#000" stroke-width="1.4"/>
<line x1="156.85" y1="622.64" x2="124.85" y2="590.64" stroke="#000" stroke-width="1.4"/>
<line x1="179.93" y1="622.64" x2="147.93" y2="590.64" stroke="#000" stroke-width="1.4"/>
<line x1="203.01" y1="622.64" x2="171.01" y2="590.64" stroke="#000" stroke-width="1.4"/>
<line x1="210.7" y1="622.64" x2="178.7" y2="590.64" stroke="#000" stroke-width="1.4"/>
<line x1="110.7" y1="672.54" x2="78.7" y2="640.54" stroke="#000" stroke-width="1.4"/>
<line x1="133.78" y1="622.64" x2="133.78" y2="672.54" stroke="#000" stroke-width="1.4"/>
<line x1="156.85" y1="622.64" x2="156.85" y2="672.54" stroke="#000" stroke-width="1.4"/>
<line x1="179.93" y1="622.64" x2="179.93" y2="672.54" stroke="#000" stroke-width="1.4"/>
<line x1="203.01" y1="622.64" x2="203.01" y2="672.54" stroke="#000" stroke-width="1.4"/>
<polyline points="110.7,621.99 110.7,672.54 210.7,672.54 210.7,621.99" fill="none" stroke="#000" stroke-width="1.4" stroke-linejoin="miter"/>
<line x1="78.7" y1="570.64" x2="113" y2="570.64" stroke="#000" stroke-width="1.2"/>
<line x1="158.7" y1="570.64" x2="178.7" y2="570.64" stroke="#000" stroke-width="1.2"/>
<line x1="78.7" y1="565.64" x2="78.7" y2="575.64" stroke="#000" stroke-width="1.2"/>
<line x1="178.7" y1="565.64" x2="178.7" y2="575.64" stroke="#000" stroke-width="1.2"/>
<text x="123.3" y="576.04" class="dl" text-anchor="middle">4</text>
<line x1="133.6" y1="570.64" x2="148.5" y2="570.64" stroke="#000" stroke-width="1.2"/>
<text x="143.5" y="566.94" class="dl" text-anchor="middle">1</text>
<text x="143.5" y="585.94" class="dl" text-anchor="middle">3</text>
<text x="220.2" y="652.59" class="dl" text-anchor="middle">2</text>
<text x="68.7" y="662.34" class="dl" text-anchor="middle">4</text>
<text x="31.9" y="570.74" class="pl">4)</text>
<polygon points="408.25,706.44 392.25,690.44 392.25,590.64 517.25,590.64 533.25,606.64 533.25,706.44" fill="#fff"/>
<line x1="408.25" y1="606.64" x2="533.25" y2="606.64" stroke="#000" stroke-width="1.3"/>
<line x1="400.25" y1="598.64" x2="525.25" y2="598.64" stroke="#000" stroke-width="1.3"/>
<line x1="392.25" y1="590.64" x2="517.25" y2="590.64" stroke="#aaa" stroke-width="1.3"/>
<line x1="392.25" y1="590.64" x2="392.25" y2="690.44" stroke="#999" stroke-width="1.3"/>
<line x1="415.6" y1="606.64" x2="399.6" y2="590.64" stroke="#ff2a2a" stroke-width="1.25" stroke-dasharray="1.3 0.7"/>
<line x1="422.96" y1="606.64" x2="406.96" y2="590.64" stroke="#ff2a2a" stroke-width="1.25" stroke-dasharray="1.3 0.7"/>
<line x1="437.66" y1="606.64" x2="421.66" y2="590.64" stroke="#ff2a2a" stroke-width="1.25" stroke-dasharray="1.3 0.7"/>
<line x1="445.01" y1="606.64" x2="429.01" y2="590.64" stroke="#ff2a2a" stroke-width="1.25" stroke-dasharray="1.3 0.7"/>
<line x1="459.72" y1="606.64" x2="443.72" y2="590.64" stroke="#ff2a2a" stroke-width="1.25" stroke-dasharray="1.3 0.7"/>
<line x1="467.07" y1="606.64" x2="451.07" y2="590.64" stroke="#ff2a2a" stroke-width="1.25" stroke-dasharray="1.3 0.7"/>
<line x1="481.78" y1="606.64" x2="465.78" y2="590.64" stroke="#ff2a2a" stroke-width="1.25" stroke-dasharray="1.3 0.7"/>
<line x1="489.13" y1="606.64" x2="473.13" y2="590.64" stroke="#ff2a2a" stroke-width="1.25" stroke-dasharray="1.3 0.7"/>
<line x1="503.84" y1="606.64" x2="487.84" y2="590.64" stroke="#ff2a2a" stroke-width="1.25" stroke-dasharray="1.3 0.7"/>
<line x1="511.19" y1="606.64" x2="495.19" y2="590.64" stroke="#ff2a2a" stroke-width="1.25" stroke-dasharray="1.3 0.7"/>
<line x1="525.9" y1="606.64" x2="509.9" y2="590.64" stroke="#ff2a2a" stroke-width="1.25" stroke-dasharray="1.3 0.7"/>
<line x1="415.6" y1="606.64" x2="415.6" y2="706.44" stroke="#ff2a2a" stroke-width="1.25" stroke-dasharray="1.3 0.7"/>
<line x1="422.96" y1="606.64" x2="422.96" y2="706.44" stroke="#ff2a2a" stroke-width="1.25" stroke-dasharray="1.3 0.7"/>
<line x1="437.66" y1="606.64" x2="437.66" y2="706.44" stroke="#ff2a2a" stroke-width="1.25" stroke-dasharray="1.3 0.7"/>
<line x1="445.01" y1="606.64" x2="445.01" y2="706.44" stroke="#ff2a2a" stroke-width="1.25" stroke-dasharray="1.3 0.7"/>
<line x1="459.72" y1="606.64" x2="459.72" y2="706.44" stroke="#ff2a2a" stroke-width="1.25" stroke-dasharray="1.3 0.7"/>
<line x1="467.07" y1="606.64" x2="467.07" y2="706.44" stroke="#ff2a2a" stroke-width="1.25" stroke-dasharray="1.3 0.7"/>
<line x1="481.78" y1="606.64" x2="481.78" y2="706.44" stroke="#ff2a2a" stroke-width="1.25" stroke-dasharray="1.3 0.7"/>
<line x1="489.13" y1="606.64" x2="489.13" y2="706.44" stroke="#ff2a2a" stroke-width="1.25" stroke-dasharray="1.3 0.7"/>
<line x1="503.84" y1="606.64" x2="503.84" y2="706.44" stroke="#ff2a2a" stroke-width="1.25" stroke-dasharray="1.3 0.7"/>
<line x1="511.19" y1="606.64" x2="511.19" y2="706.44" stroke="#ff2a2a" stroke-width="1.25" stroke-dasharray="1.3 0.7"/>
<line x1="525.9" y1="606.64" x2="525.9" y2="706.44" stroke="#ff2a2a" stroke-width="1.25" stroke-dasharray="1.3 0.7"/>
<line x1="408.25" y1="631.59" x2="533.25" y2="631.59" stroke="#777" stroke-width="1"/>
<line x1="408.25" y1="656.54" x2="533.25" y2="656.54" stroke="#777" stroke-width="1"/>
<line x1="408.25" y1="681.49" x2="533.25" y2="681.49" stroke="#777" stroke-width="1"/>
<line x1="408.25" y1="631.59" x2="392.25" y2="615.59" stroke="#555" stroke-width="1.1"/>
<line x1="408.25" y1="656.54" x2="392.25" y2="640.54" stroke="#555" stroke-width="1.1"/>
<line x1="408.25" y1="681.49" x2="392.25" y2="665.49" stroke="#555" stroke-width="1.1"/>
<line x1="400.25" y1="598.64" x2="400.25" y2="698.44" stroke="#000" stroke-width="1.4"/>
<line x1="408.25" y1="606.64" x2="392.25" y2="590.64" stroke="#000" stroke-width="1.4"/>
<line x1="430.31" y1="606.64" x2="414.31" y2="590.64" stroke="#000" stroke-width="1.4"/>
<line x1="452.37" y1="606.64" x2="436.37" y2="590.64" stroke="#000" stroke-width="1.4"/>
<line x1="474.43" y1="606.64" x2="458.43" y2="590.64" stroke="#000" stroke-width="1.4"/>
<line x1="496.49" y1="606.64" x2="480.49" y2="590.64" stroke="#000" stroke-width="1.4"/>
<line x1="518.54" y1="606.64" x2="502.54" y2="590.64" stroke="#000" stroke-width="1.4"/>
<line x1="533.25" y1="606.64" x2="517.25" y2="590.64" stroke="#000" stroke-width="1.4"/>
<line x1="408.25" y1="706.44" x2="392.25" y2="690.44" stroke="#000" stroke-width="1.4"/>
<line x1="430.31" y1="606.64" x2="430.31" y2="706.44" stroke="#000" stroke-width="1.4"/>
<line x1="452.37" y1="606.64" x2="452.37" y2="706.44" stroke="#000" stroke-width="1.4"/>
<line x1="474.43" y1="606.64" x2="474.43" y2="706.44" stroke="#000" stroke-width="1.4"/>
<line x1="496.49" y1="606.64" x2="496.49" y2="706.44" stroke="#000" stroke-width="1.4"/>
<line x1="518.54" y1="606.64" x2="518.54" y2="706.44" stroke="#000" stroke-width="1.4"/>
<polyline points="408.25,605.99 408.25,706.44 533.25,706.44 533.25,605.99" fill="none" stroke="#000" stroke-width="1.4" stroke-linejoin="miter"/>
<line x1="392.25" y1="570.64" x2="439.05" y2="570.64" stroke="#000" stroke-width="1.2"/>
<line x1="484.75" y1="570.64" x2="517.25" y2="570.64" stroke="#000" stroke-width="1.2"/>
<line x1="392.25" y1="565.64" x2="392.25" y2="575.64" stroke="#000" stroke-width="1.2"/>
<line x1="517.25" y1="565.64" x2="517.25" y2="575.64" stroke="#000" stroke-width="1.2"/>
<text x="449.35" y="576.04" class="dl" text-anchor="middle">5</text>
<line x1="459.65" y1="570.64" x2="474.55" y2="570.64" stroke="#000" stroke-width="1.2"/>
<text x="469.55" y="566.94" class="dl" text-anchor="middle">2</text>
<text x="469.55" y="585.94" class="dl" text-anchor="middle">3</text>
<text x="542.75" y="661.54" class="dl" text-anchor="middle">4</text>
<text x="382.25" y="704.24" class="dl" text-anchor="middle">2</text>
<text x="346" y="570.74" class="pl">5)</text>
<polygon points="110.7,889.61 78.7,857.61 78.7,807.71 203.7,807.71 235.7,839.71 235.7,889.61" fill="#fff"/>
<line x1="110.7" y1="839.71" x2="235.7" y2="839.71" stroke="#000" stroke-width="1.3"/>
<line x1="102.7" y1="831.71" x2="227.7" y2="831.71" stroke="#000" stroke-width="1.3"/>
<line x1="94.7" y1="823.71" x2="219.7" y2="823.71" stroke="#000" stroke-width="1.3"/>
<line x1="86.7" y1="815.71" x2="211.7" y2="815.71" stroke="#000" stroke-width="1.3"/>
<line x1="78.7" y1="807.71" x2="203.7" y2="807.71" stroke="#aaa" stroke-width="1.3"/>
<line x1="78.7" y1="807.71" x2="78.7" y2="857.61" stroke="#999" stroke-width="1.3"/>
<line x1="116.38" y1="839.71" x2="84.38" y2="807.71" stroke="#ff2a2a" stroke-width="1.25" stroke-dasharray="1.3 0.7"/>
<line x1="122.06" y1="839.71" x2="90.06" y2="807.71" stroke="#ff2a2a" stroke-width="1.25" stroke-dasharray="1.3 0.7"/>
<line x1="127.75" y1="839.71" x2="95.75" y2="807.71" stroke="#ff2a2a" stroke-width="1.25" stroke-dasharray="1.3 0.7"/>
<line x1="139.11" y1="839.71" x2="107.11" y2="807.71" stroke="#ff2a2a" stroke-width="1.25" stroke-dasharray="1.3 0.7"/>
<line x1="144.79" y1="839.71" x2="112.79" y2="807.71" stroke="#ff2a2a" stroke-width="1.25" stroke-dasharray="1.3 0.7"/>
<line x1="150.47" y1="839.71" x2="118.47" y2="807.71" stroke="#ff2a2a" stroke-width="1.25" stroke-dasharray="1.3 0.7"/>
<line x1="161.84" y1="839.71" x2="129.84" y2="807.71" stroke="#ff2a2a" stroke-width="1.25" stroke-dasharray="1.3 0.7"/>
<line x1="167.52" y1="839.71" x2="135.52" y2="807.71" stroke="#ff2a2a" stroke-width="1.25" stroke-dasharray="1.3 0.7"/>
<line x1="173.2" y1="839.71" x2="141.2" y2="807.71" stroke="#ff2a2a" stroke-width="1.25" stroke-dasharray="1.3 0.7"/>
<line x1="184.56" y1="839.71" x2="152.56" y2="807.71" stroke="#ff2a2a" stroke-width="1.25" stroke-dasharray="1.3 0.7"/>
<line x1="190.25" y1="839.71" x2="158.25" y2="807.71" stroke="#ff2a2a" stroke-width="1.25" stroke-dasharray="1.3 0.7"/>
<line x1="195.93" y1="839.71" x2="163.93" y2="807.71" stroke="#ff2a2a" stroke-width="1.25" stroke-dasharray="1.3 0.7"/>
<line x1="207.29" y1="839.71" x2="175.29" y2="807.71" stroke="#ff2a2a" stroke-width="1.25" stroke-dasharray="1.3 0.7"/>
<line x1="212.97" y1="839.71" x2="180.97" y2="807.71" stroke="#ff2a2a" stroke-width="1.25" stroke-dasharray="1.3 0.7"/>
<line x1="218.65" y1="839.71" x2="186.65" y2="807.71" stroke="#ff2a2a" stroke-width="1.25" stroke-dasharray="1.3 0.7"/>
<line x1="230.02" y1="839.71" x2="198.02" y2="807.71" stroke="#ff2a2a" stroke-width="1.25" stroke-dasharray="1.3 0.7"/>
<line x1="116.38" y1="839.71" x2="116.38" y2="889.61" stroke="#ff2a2a" stroke-width="1.25" stroke-dasharray="1.3 0.7"/>
<line x1="122.06" y1="839.71" x2="122.06" y2="889.61" stroke="#ff2a2a" stroke-width="1.25" stroke-dasharray="1.3 0.7"/>
<line x1="127.75" y1="839.71" x2="127.75" y2="889.61" stroke="#ff2a2a" stroke-width="1.25" stroke-dasharray="1.3 0.7"/>
<line x1="139.11" y1="839.71" x2="139.11" y2="889.61" stroke="#ff2a2a" stroke-width="1.25" stroke-dasharray="1.3 0.7"/>
<line x1="144.79" y1="839.71" x2="144.79" y2="889.61" stroke="#ff2a2a" stroke-width="1.25" stroke-dasharray="1.3 0.7"/>
<line x1="150.47" y1="839.71" x2="150.47" y2="889.61" stroke="#ff2a2a" stroke-width="1.25" stroke-dasharray="1.3 0.7"/>
<line x1="161.84" y1="839.71" x2="161.84" y2="889.61" stroke="#ff2a2a" stroke-width="1.25" stroke-dasharray="1.3 0.7"/>
<line x1="167.52" y1="839.71" x2="167.52" y2="889.61" stroke="#ff2a2a" stroke-width="1.25" stroke-dasharray="1.3 0.7"/>
<line x1="173.2" y1="839.71" x2="173.2" y2="889.61" stroke="#ff2a2a" stroke-width="1.25" stroke-dasharray="1.3 0.7"/>
<line x1="184.56" y1="839.71" x2="184.56" y2="889.61" stroke="#ff2a2a" stroke-width="1.25" stroke-dasharray="1.3 0.7"/>
<line x1="190.25" y1="839.71" x2="190.25" y2="889.61" stroke="#ff2a2a" stroke-width="1.25" stroke-dasharray="1.3 0.7"/>
<line x1="195.93" y1="839.71" x2="195.93" y2="889.61" stroke="#ff2a2a" stroke-width="1.25" stroke-dasharray="1.3 0.7"/>
<line x1="207.29" y1="839.71" x2="207.29" y2="889.61" stroke="#ff2a2a" stroke-width="1.25" stroke-dasharray="1.3 0.7"/>
<line x1="212.97" y1="839.71" x2="212.97" y2="889.61" stroke="#ff2a2a" stroke-width="1.25" stroke-dasharray="1.3 0.7"/>
<line x1="218.65" y1="839.71" x2="218.65" y2="889.61" stroke="#ff2a2a" stroke-width="1.25" stroke-dasharray="1.3 0.7"/>
<line x1="230.02" y1="839.71" x2="230.02" y2="889.61" stroke="#ff2a2a" stroke-width="1.25" stroke-dasharray="1.3 0.7"/>
<line x1="110.7" y1="864.66" x2="235.7" y2="864.66" stroke="#777" stroke-width="1"/>
<line x1="110.7" y1="864.66" x2="78.7" y2="832.66" stroke="#555" stroke-width="1.1"/>
<line x1="102.7" y1="831.71" x2="102.7" y2="881.61" stroke="#000" stroke-width="1.4"/>
<line x1="94.7" y1="823.71" x2="94.7" y2="873.61" stroke="#000" stroke-width="1.4"/>
<line x1="86.7" y1="815.71" x2="86.7" y2="865.61" stroke="#000" stroke-width="1.4"/>
<line x1="110.7" y1="839.71" x2="78.7" y2="807.71" stroke="#000" stroke-width="1.4"/>
<line x1="133.43" y1="839.71" x2="101.43" y2="807.71" stroke="#000" stroke-width="1.4"/>
<line x1="156.15" y1="839.71" x2="124.15" y2="807.71" stroke="#000" stroke-width="1.4"/>
<line x1="178.88" y1="839.71" x2="146.88" y2="807.71" stroke="#000" stroke-width="1.4"/>
<line x1="201.61" y1="839.71" x2="169.61" y2="807.71" stroke="#000" stroke-width="1.4"/>
<line x1="224.34" y1="839.71" x2="192.34" y2="807.71" stroke="#000" stroke-width="1.4"/>
<line x1="235.7" y1="839.71" x2="203.7" y2="807.71" stroke="#000" stroke-width="1.4"/>
<line x1="110.7" y1="889.61" x2="78.7" y2="857.61" stroke="#000" stroke-width="1.4"/>
<line x1="133.43" y1="839.71" x2="133.43" y2="889.61" stroke="#000" stroke-width="1.4"/>
<line x1="156.15" y1="839.71" x2="156.15" y2="889.61" stroke="#000" stroke-width="1.4"/>
<line x1="178.88" y1="839.71" x2="178.88" y2="889.61" stroke="#000" stroke-width="1.4"/>
<line x1="201.61" y1="839.71" x2="201.61" y2="889.61" stroke="#000" stroke-width="1.4"/>
<line x1="224.34" y1="839.71" x2="224.34" y2="889.61" stroke="#000" stroke-width="1.4"/>
<polyline points="110.7,839.06 110.7,889.61 235.7,889.61 235.7,839.06" fill="none" stroke="#000" stroke-width="1.4" stroke-linejoin="miter"/>
<line x1="78.7" y1="787.71" x2="125.5" y2="787.71" stroke="#000" stroke-width="1.2"/>
<line x1="171.2" y1="787.71" x2="203.7" y2="787.71" stroke="#000" stroke-width="1.2"/>
<line x1="78.7" y1="782.71" x2="78.7" y2="792.71" stroke="#000" stroke-width="1.2"/>
<line x1="203.7" y1="782.71" x2="203.7" y2="792.71" stroke="#000" stroke-width="1.2"/>
<text x="135.8" y="793.11" class="dl" text-anchor="middle">5</text>
<line x1="146.1" y1="787.71" x2="161" y2="787.71" stroke="#000" stroke-width="1.2"/>
<text x="156" y="784.01" class="dl" text-anchor="middle">2</text>
<text x="156" y="803.01" class="dl" text-anchor="middle">4</text>
<text x="245.2" y="869.66" class="dl" text-anchor="middle">2</text>
<text x="68.7" y="879.41" class="dl" text-anchor="middle">4</text>
<text x="31.9" y="787.81" class="pl">6)</text>
<polygon points="416.25,881.61 392.25,857.61 392.25,807.71 517.25,807.71 541.25,831.71 541.25,881.61" fill="#fff"/>
<line x1="416.25" y1="831.71" x2="541.25" y2="831.71" stroke="#000" stroke-width="1.3"/>
<line x1="408.25" y1="823.71" x2="533.25" y2="823.71" stroke="#000" stroke-width="1.3"/>
<line x1="400.25" y1="815.71" x2="525.25" y2="815.71" stroke="#000" stroke-width="1.3"/>
<line x1="392.25" y1="807.71" x2="517.25" y2="807.71" stroke="#aaa" stroke-width="1.3"/>
<line x1="392.25" y1="807.71" x2="392.25" y2="857.61" stroke="#999" stroke-width="1.3"/>
<line x1="421.93" y1="831.71" x2="397.93" y2="807.71" stroke="#ff2a2a" stroke-width="1.25" stroke-dasharray="1.3 0.7"/>
<line x1="427.61" y1="831.71" x2="403.61" y2="807.71" stroke="#ff2a2a" stroke-width="1.25" stroke-dasharray="1.3 0.7"/>
<line x1="433.3" y1="831.71" x2="409.3" y2="807.71" stroke="#ff2a2a" stroke-width="1.25" stroke-dasharray="1.3 0.7"/>
<line x1="444.66" y1="831.71" x2="420.66" y2="807.71" stroke="#ff2a2a" stroke-width="1.25" stroke-dasharray="1.3 0.7"/>
<line x1="450.34" y1="831.71" x2="426.34" y2="807.71" stroke="#ff2a2a" stroke-width="1.25" stroke-dasharray="1.3 0.7"/>
<line x1="456.02" y1="831.71" x2="432.02" y2="807.71" stroke="#ff2a2a" stroke-width="1.25" stroke-dasharray="1.3 0.7"/>
<line x1="467.39" y1="831.71" x2="443.39" y2="807.71" stroke="#ff2a2a" stroke-width="1.25" stroke-dasharray="1.3 0.7"/>
<line x1="473.07" y1="831.71" x2="449.07" y2="807.71" stroke="#ff2a2a" stroke-width="1.25" stroke-dasharray="1.3 0.7"/>
<line x1="478.75" y1="831.71" x2="454.75" y2="807.71" stroke="#ff2a2a" stroke-width="1.25" stroke-dasharray="1.3 0.7"/>
<line x1="490.11" y1="831.71" x2="466.11" y2="807.71" stroke="#ff2a2a" stroke-width="1.25" stroke-dasharray="1.3 0.7"/>
<line x1="495.8" y1="831.71" x2="471.8" y2="807.71" stroke="#ff2a2a" stroke-width="1.25" stroke-dasharray="1.3 0.7"/>
<line x1="501.48" y1="831.71" x2="477.48" y2="807.71" stroke="#ff2a2a" stroke-width="1.25" stroke-dasharray="1.3 0.7"/>
<line x1="512.84" y1="831.71" x2="488.84" y2="807.71" stroke="#ff2a2a" stroke-width="1.25" stroke-dasharray="1.3 0.7"/>
<line x1="518.52" y1="831.71" x2="494.52" y2="807.71" stroke="#ff2a2a" stroke-width="1.25" stroke-dasharray="1.3 0.7"/>
<line x1="524.2" y1="831.71" x2="500.2" y2="807.71" stroke="#ff2a2a" stroke-width="1.25" stroke-dasharray="1.3 0.7"/>
<line x1="535.57" y1="831.71" x2="511.57" y2="807.71" stroke="#ff2a2a" stroke-width="1.25" stroke-dasharray="1.3 0.7"/>
<line x1="421.93" y1="831.71" x2="421.93" y2="881.61" stroke="#ff2a2a" stroke-width="1.25" stroke-dasharray="1.3 0.7"/>
<line x1="427.61" y1="831.71" x2="427.61" y2="881.61" stroke="#ff2a2a" stroke-width="1.25" stroke-dasharray="1.3 0.7"/>
<line x1="433.3" y1="831.71" x2="433.3" y2="881.61" stroke="#ff2a2a" stroke-width="1.25" stroke-dasharray="1.3 0.7"/>
<line x1="444.66" y1="831.71" x2="444.66" y2="881.61" stroke="#ff2a2a" stroke-width="1.25" stroke-dasharray="1.3 0.7"/>
<line x1="450.34" y1="831.71" x2="450.34" y2="881.61" stroke="#ff2a2a" stroke-width="1.25" stroke-dasharray="1.3 0.7"/>
<line x1="456.02" y1="831.71" x2="456.02" y2="881.61" stroke="#ff2a2a" stroke-width="1.25" stroke-dasharray="1.3 0.7"/>
<line x1="467.39" y1="831.71" x2="467.39" y2="881.61" stroke="#ff2a2a" stroke-width="1.25" stroke-dasharray="1.3 0.7"/>
<line x1="473.07" y1="831.71" x2="473.07" y2="881.61" stroke="#ff2a2a" stroke-width="1.25" stroke-dasharray="1.3 0.7"/>
<line x1="478.75" y1="831.71" x2="478.75" y2="881.61" stroke="#ff2a2a" stroke-width="1.25" stroke-dasharray="1.3 0.7"/>
<line x1="490.11" y1="831.71" x2="490.11" y2="881.61" stroke="#ff2a2a" stroke-width="1.25" stroke-dasharray="1.3 0.7"/>
<line x1="495.8" y1="831.71" x2="495.8" y2="881.61" stroke="#ff2a2a" stroke-width="1.25" stroke-dasharray="1.3 0.7"/>
<line x1="501.48" y1="831.71" x2="501.48" y2="881.61" stroke="#ff2a2a" stroke-width="1.25" stroke-dasharray="1.3 0.7"/>
<line x1="512.84" y1="831.71" x2="512.84" y2="881.61" stroke="#ff2a2a" stroke-width="1.25" stroke-dasharray="1.3 0.7"/>
<line x1="518.52" y1="831.71" x2="518.52" y2="881.61" stroke="#ff2a2a" stroke-width="1.25" stroke-dasharray="1.3 0.7"/>
<line x1="524.2" y1="831.71" x2="524.2" y2="881.61" stroke="#ff2a2a" stroke-width="1.25" stroke-dasharray="1.3 0.7"/>
<line x1="535.57" y1="831.71" x2="535.57" y2="881.61" stroke="#ff2a2a" stroke-width="1.25" stroke-dasharray="1.3 0.7"/>
<line x1="416.25" y1="856.66" x2="541.25" y2="856.66" stroke="#777" stroke-width="1"/>
<line x1="416.25" y1="856.66" x2="392.25" y2="832.66" stroke="#555" stroke-width="1.1"/>
<line x1="408.25" y1="823.71" x2="408.25" y2="873.61" stroke="#000" stroke-width="1.4"/>
<line x1="400.25" y1="815.71" x2="400.25" y2="865.61" stroke="#000" stroke-width="1.4"/>
<line x1="416.25" y1="831.71" x2="392.25" y2="807.71" stroke="#000" stroke-width="1.4"/>
<line x1="438.98" y1="831.71" x2="414.98" y2="807.71" stroke="#000" stroke-width="1.4"/>
<line x1="461.7" y1="831.71" x2="437.7" y2="807.71" stroke="#000" stroke-width="1.4"/>
<line x1="484.43" y1="831.71" x2="460.43" y2="807.71" stroke="#000" stroke-width="1.4"/>
<line x1="507.16" y1="831.71" x2="483.16" y2="807.71" stroke="#000" stroke-width="1.4"/>
<line x1="529.89" y1="831.71" x2="505.89" y2="807.71" stroke="#000" stroke-width="1.4"/>
<line x1="541.25" y1="831.71" x2="517.25" y2="807.71" stroke="#000" stroke-width="1.4"/>
<line x1="416.25" y1="881.61" x2="392.25" y2="857.61" stroke="#000" stroke-width="1.4"/>
<line x1="438.98" y1="831.71" x2="438.98" y2="881.61" stroke="#000" stroke-width="1.4"/>
<line x1="461.7" y1="831.71" x2="461.7" y2="881.61" stroke="#000" stroke-width="1.4"/>
<line x1="484.43" y1="831.71" x2="484.43" y2="881.61" stroke="#000" stroke-width="1.4"/>
<line x1="507.16" y1="831.71" x2="507.16" y2="881.61" stroke="#000" stroke-width="1.4"/>
<line x1="529.89" y1="831.71" x2="529.89" y2="881.61" stroke="#000" stroke-width="1.4"/>
<polyline points="416.25,831.06 416.25,881.61 541.25,881.61 541.25,831.06" fill="none" stroke="#000" stroke-width="1.4" stroke-linejoin="miter"/>
<line x1="392.25" y1="787.71" x2="439.05" y2="787.71" stroke="#000" stroke-width="1.2"/>
<line x1="484.75" y1="787.71" x2="517.25" y2="787.71" stroke="#000" stroke-width="1.2"/>
<line x1="392.25" y1="782.71" x2="392.25" y2="792.71" stroke="#000" stroke-width="1.2"/>
<line x1="517.25" y1="782.71" x2="517.25" y2="792.71" stroke="#000" stroke-width="1.2"/>
<text x="449.35" y="793.11" class="dl" text-anchor="middle">5</text>
<line x1="459.65" y1="787.71" x2="474.55" y2="787.71" stroke="#000" stroke-width="1.2"/>
<text x="469.55" y="784.01" class="dl" text-anchor="middle">2</text>
<text x="469.55" y="803.01" class="dl" text-anchor="middle">4</text>
<text x="550.75" y="861.66" class="dl" text-anchor="middle">2</text>
<text x="382.25" y="875.41" class="dl" text-anchor="middle">3</text>
<text x="346" y="787.81" class="pl">7)</text>
<!-- footer -->
<rect x="24.3" y="994.9" width="143.7" height="35.8" fill="#000"/>
<rect x="27.4" y="998.8" width="137.3" height="30" rx="15" fill="#fff"/>
<text x="72.5" y="1021" font-size="21" font-weight="bold" fill="#000" textLength="47.5" lengthAdjust="spacing">Math</text>
<line x1="168" y1="995.7" x2="792" y2="995.7" stroke="#000" stroke-width="1.5"/>
<text x="174.3" y="1027" font-size="14" fill="#000" textLength="203.6" lengthAdjust="spacing">www.CommonCoreSheets.com</text>
<polygon points="445.4,1001.7 445.4,1022.9 442.6,1022.9 442.6,1005.6 437,1007.9 437,1005.3 444.6,1001.7" fill="#000"/>
<text x="605.2" y="1009.6" font-size="12.5" fill="#000">1-7</text>
<rect x="632.6" y="996.1" width="23.3" height="17.2" fill="#fff" stroke="#000" stroke-width="1.2"/>
<text x="644.25" y="1009.6" font-size="13.3" fill="#000" text-anchor="middle">86</text>
<rect x="655.9" y="996.1" width="22.5" height="17.2" fill="#fff" stroke="#000" stroke-width="1.2"/>
<text x="667.15" y="1009.6" font-size="13.3" fill="#000" text-anchor="middle">71</text>
<rect x="678.4" y="996.1" width="22.6" height="17.2" fill="#fff" stroke="#000" stroke-width="1.2"/>
<text x="689.7" y="1009.6" font-size="13.3" fill="#000" text-anchor="middle">57</text>
<rect x="701" y="996.1" width="22.8" height="17.2" fill="#fff" stroke="#000" stroke-width="1.2"/>
<text x="712.4" y="1009.6" font-size="13.3" fill="#000" text-anchor="middle">43</text>
<rect x="723.8" y="996.1" width="22.8" height="17.2" fill="#fff" stroke="#000" stroke-width="1.2"/>
<text x="735.2" y="1009.6" font-size="13.3" fill="#000" text-anchor="middle">29</text>
<rect x="746.6" y="996.1" width="22.5" height="17.2" fill="#cfe0f7" stroke="#000" stroke-width="1.2"/>
<text x="757.85" y="1009.6" font-size="13.3" fill="#000" text-anchor="middle">14</text>
<rect x="769.1" y="996.1" width="22.6" height="17.2" fill="#cfe0f7" stroke="#000" stroke-width="1.2"/>
<text x="780.4" y="1009.6" font-size="13.3" fill="#000" text-anchor="middle">0</text>
</svg>
</body></html>
